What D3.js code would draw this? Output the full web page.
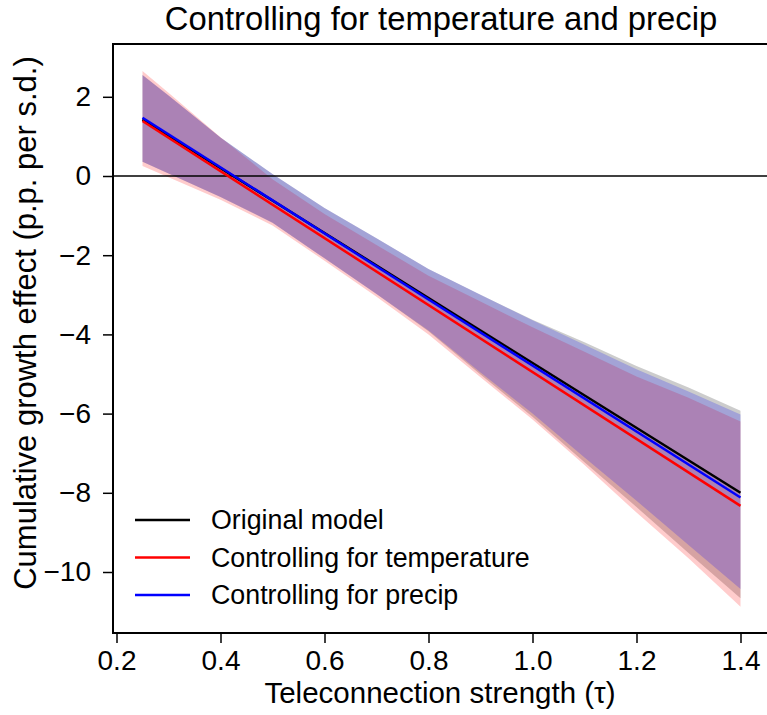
<!DOCTYPE html>
<html>
<head>
<meta charset="utf-8">
<script src="https://cdn.jsdelivr.net/npm/d3@7"></script>
<style>
  body { margin: 0; background: #fff; }
  svg { display: block; font-family: "Liberation Sans", Arial, Helvetica, sans-serif; }
</style>
</head>
<body>
<div id="chart"></div>
<script>
// x positions where the confidence bands were read
var bandX = [0.25, 0.3, 0.4, 0.5, 0.6, 0.7, 0.8, 0.9, 1.0, 1.1, 1.2, 1.3, 1.4];

// upper / lower band edges per model
var origUpper = [2.55, 2.03, 0.97, 0.05, -0.81, -1.57, -2.35, -3.0, -3.63, -4.2, -4.8, -5.34, -5.93];
var origLower = [0.36, 0.06, -0.53, -1.18, -2.08, -2.98, -3.92, -5.01, -6.08, -7.23, -8.36, -9.52, -10.66];
var tempUpper = [2.65, 2.1, 0.98, -0.08, -0.96, -1.74, -2.52, -3.17, -3.82, -4.44, -5.06, -5.6, -6.2];
var tempLower = [0.25, -0.03, -0.6, -1.25, -2.14, -3.05, -4.0, -5.08, -6.15, -7.3, -8.5, -9.65, -10.88];
var precUpper = [2.55, 2.03, 0.97, 0.05, -0.81, -1.57, -2.35, -3.0, -3.64, -4.26, -4.88, -5.44, -6.02];
var precLower = [0.36, 0.06, -0.53, -1.18, -2.08, -2.98, -3.9, -4.96, -6.0, -7.11, -8.2, -9.32, -10.43];

// fitted lines (straight), endpoints
var lineX = [0.25, 1.4];
var origLine = [1.43, -8.0];
var tempLine = [1.39, -8.33];
var precLine = [1.47, -8.12];

var seriesNames = ["Original model", "Controlling for temperature", "Controlling for precip"];
var seriesColors = ["#000000", "#ff0000", "#0000ff"];

var xTicks = [0.2, 0.4, 0.6, 0.8, 1.0, 1.2, 1.4];
var yTicks = [2, 0, -2, -4, -6, -8, -10];

var W = 767, H = 715;
var frame = {left: 113, top: 44, bottom: 633, right: 775};

var svg = d3.select("#chart").append("svg")
    .attr("width", W)
    .attr("height", H);

var xScale = d3.scaleLinear().domain([0.2, 1.4]).range([116.5, 740.5]);
var yScale = d3.scaleLinear().domain([-10, 2]).range([572, 96.8]);

var bands = [
  {upper: origUpper, lower: origLower},
  {upper: tempUpper, lower: tempLower},
  {upper: precUpper, lower: precLower}
];
var lines = [origLine, tempLine, precLine];

var area = d3.area()
    .x(function (d) { return xScale(d.x); })
    .y0(function (d) { return yScale(d.lo); })
    .y1(function (d) { return yScale(d.hi); });

var line = d3.line()
    .x(function (d) { return xScale(d.x); })
    .y(function (d) { return yScale(d.y); });

// bands
bands.forEach(function (b, i) {
  var pts = bandX.map(function (x, j) { return {x: x, hi: b.upper[j], lo: b.lower[j]}; });
  svg.append("path")
    .attr("d", area(pts))
    .attr("fill", seriesColors[i])
    .attr("fill-opacity", 0.2);
});

// zero line
svg.append("line")
  .attr("x1", frame.left).attr("x2", frame.right)
  .attr("y1", yScale(0)).attr("y2", yScale(0))
  .attr("stroke", "#000").attr("stroke-width", 1.5);

// fitted lines
lines.forEach(function (vals, i) {
  var pts = lineX.map(function (x, j) { return {x: x, y: vals[j]}; });
  svg.append("path")
    .attr("d", line(pts))
    .attr("fill", "none")
    .attr("stroke", seriesColors[i])
    .attr("stroke-width", 2.5);
});

// frame
svg.append("rect")
  .attr("x", frame.left).attr("y", frame.top)
  .attr("width", frame.right - frame.left)
  .attr("height", frame.bottom - frame.top)
  .attr("fill", "none")
  .attr("stroke", "#000")
  .attr("stroke-width", 2);

// axes
var xAxis = d3.axisBottom(xScale)
    .tickValues(xTicks)
    .tickSize(10)
    .tickPadding(7)
    .tickFormat(d3.format(".1f"));

var yAxis = d3.axisLeft(yScale)
    .tickValues(yTicks)
    .tickSize(10)
    .tickPadding(12)
    .tickFormat(function (d) { return d < 0 ? "\u2212" + Math.abs(d) : d; });

var gx = svg.append("g")
    .attr("transform", "translate(0," + frame.bottom + ")")
    .call(xAxis);
var gy = svg.append("g")
    .attr("transform", "translate(" + frame.left + ",0)")
    .call(yAxis);

[gx, gy].forEach(function (g) {
  g.select(".domain").remove();
  g.selectAll(".tick line").attr("stroke", "#000").attr("stroke-width", 1.5);
  g.selectAll(".tick text")
    .attr("fill", "#000")
    .style("font-family", "Liberation Sans, Arial, sans-serif")
    .style("font-size", "28px");
});

// title and axis labels
svg.append("text")
  .attr("x", 441).attr("y", 30)
  .attr("text-anchor", "middle")
  .style("font-size", "32.8px")
  .text("Controlling for temperature and precip");

svg.append("text")
  .attr("x", 440).attr("y", 703)
  .attr("text-anchor", "middle")
  .style("font-size", "29.5px")
  .text("Teleconnection strength (\u03c4)");

svg.append("text")
  .attr("transform", "translate(36,323) rotate(-90)")
  .attr("text-anchor", "middle")
  .style("font-size", "31px")
  .text("Cumulative growth effect (p.p. per s.d.)");

// legend
var legend = svg.append("g");
seriesNames.forEach(function (name, i) {
  var y = 520 + i * 37.5;
  legend.append("line")
    .attr("x1", 135).attr("x2", 190)
    .attr("y1", y).attr("y2", y)
    .attr("stroke", seriesColors[i])
    .attr("stroke-width", 2.5);
  legend.append("text")
    .attr("x", 211).attr("y", y)
    .attr("dy", "0.35em")
    .style("font-size", "26.8px")
    .text(name);
});
</script>
</body>
</html>
